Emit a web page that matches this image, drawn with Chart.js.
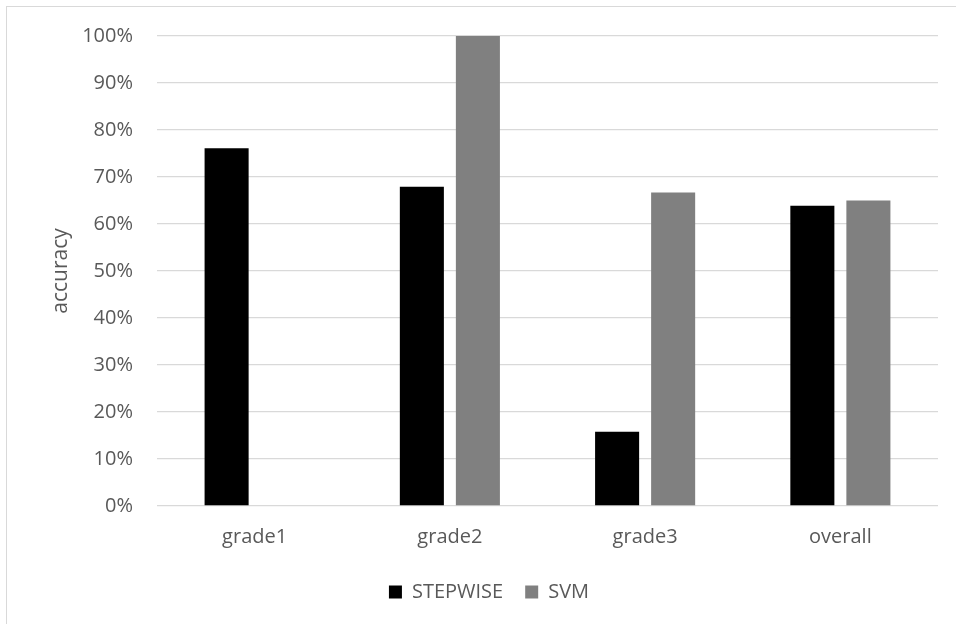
<!DOCTYPE html>
<html>
<head>
<meta charset="utf-8">
<script src="https://cdn.jsdelivr.net/npm/chart.js@4/dist/chart.umd.min.js"></script>
<style>
  html, body { margin: 0; padding: 0; background: #fff; overflow: hidden; }
  #wrap { position: relative; width: 956px; height: 624px; }
  #frame { position: absolute; left: 6px; top: 6px; width: 1200px; height: 900px;
           border: 1px solid #d9d9d9; box-sizing: border-box; }
  canvas { position: absolute; left: 0; top: 0; }
</style>
</head>
<body>
<div id="wrap">
  <div id="frame"></div>
  <canvas id="c" width="956" height="624"></canvas>
</div>
<script>
// categories and accuracy (%) per method
const categories = ['grade1', 'grade2', 'grade3', 'overall'];
const stepwise = [76.1, 67.9, 15.8, 63.9];
const svm = [0, 100, 66.7, 65.0];
const yTicks = [0, 10, 20, 30, 40, 50, 60, 70, 80, 90, 100];

const textColor = '#595959';
Chart.defaults.font.family = "'Open Sans', 'Liberation Sans', sans-serif";
Chart.defaults.color = textColor;

new Chart(document.getElementById('c'), {
  type: 'bar',
  data: {
    labels: categories,
    datasets: [
      { label: 'STEPWISE', data: stepwise, backgroundColor: '#000000' },
      { label: 'SVM', data: svm, backgroundColor: '#808080' }
    ]
  },
  options: {
    responsive: false,
    animation: false,
    events: [],
    categoryPercentage: 0.574,
    barPercentage: 0.786,
    layout: { padding: { left: 40, right: 18, top: 36, bottom: 12 } },
    plugins: {
      tooltip: { enabled: false },
      legend: {
        position: 'bottom',
        labels: {
          boxWidth: 13, boxHeight: 13, padding: 22,
          color: textColor,
          font: { size: 20 }
        }
      }
    },
    scales: {
      x: {
        grid: { display: false },
        border: { display: false },
        ticks: { color: textColor, font: { size: 20 }, padding: 11 }
      },
      y: {
        min: 0, max: 100,
        afterFit: s => { s.width = 117; },
        afterBuildTicks: s => { s.ticks = yTicks.map(v => ({ value: v })); },
        grid: { color: '#d9d9d9', lineWidth: 1.3, drawTicks: false },
        border: { display: false },
        ticks: { color: textColor, font: { size: 20 }, padding: 24,
                 callback: v => v + '%' },
        title: { display: true, text: 'accuracy', color: textColor,
                 font: { size: 21 }, padding: { top: 8, bottom: 0 } }
      }
    }
  }
});
</script>
</body>
</html>
